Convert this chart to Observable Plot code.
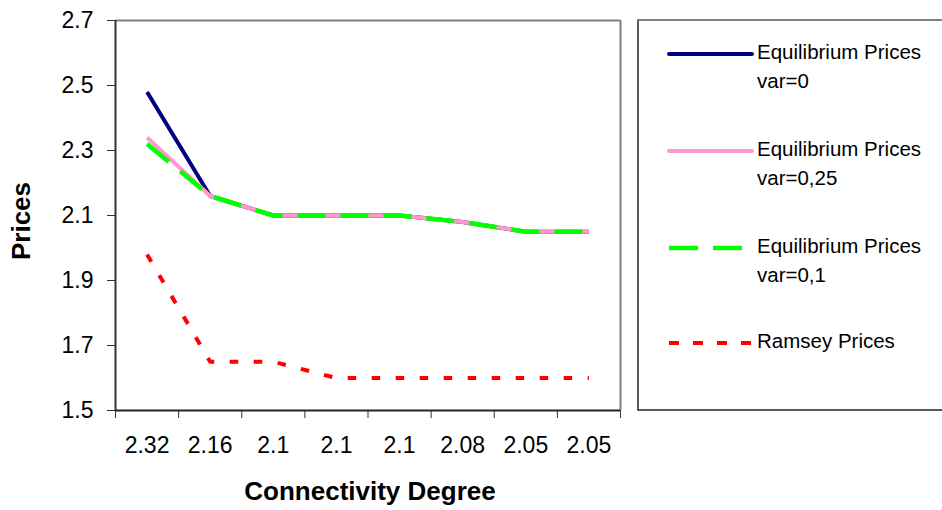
<!DOCTYPE html>
<html>
<head>
<meta charset="utf-8">
<script src="https://cdn.jsdelivr.net/npm/d3@7"></script>
<script src="https://cdn.jsdelivr.net/npm/@observablehq/plot@0.6"></script>
<style>
  html, body { margin: 0; padding: 0; background: #fff; }
  #chart svg { display: block; }
</style>
</head>
<body>
<div id="chart"></div>
<script>
// Connectivity degree categories (labels repeat, so points are placed by index)
const degreeLabels = ["2.32", "2.16", "2.1", "2.1", "2.1", "2.08", "2.05", "2.05"];

// Price series
const eqPricesVar0   = [2.48, 2.16, 2.10, 2.10, 2.10, 2.08, 2.05, 2.05];
const eqPricesVar025 = [2.34, 2.16, 2.10, 2.10, 2.10, 2.08, 2.05, 2.05];
const eqPricesVar01  = [2.32, 2.16, 2.10, 2.10, 2.10, 2.08, 2.05, 2.05];
const ramseyPrices   = [1.98, 1.65, 1.65, 1.60, 1.60, 1.60, 1.60, 1.60];

const yTicks = [1.5, 1.7, 1.9, 2.1, 2.3, 2.5, 2.7];

const seriesDefs = [
  {lines: ["Equilibrium Prices", "var=0"],    values: eqPricesVar0,   color: "#000080", width: 4,   dash: null,        legendDash: null,    legendEnd: 752},
  {lines: ["Equilibrium Prices", "var=0,25"], values: eqPricesVar025, color: "#ff99cc", width: 4,   dash: null,        legendDash: null,    legendEnd: 752},
  {lines: ["Equilibrium Prices", "var=0,1"],  values: eqPricesVar01,  color: "#00ff00", width: 4.5, dash: "28,15",     legendDash: "29,15", legendEnd: 743},
  {lines: ["Ramsey Prices"],                  values: ramseyPrices,   color: "#ff0000", width: 4,   dash: "8.5,15.5",  legendDash: "10,14", legendEnd: 753}
];

const toRows = s => s.values.map((v, i) => ({x: i + 0.5, y: v}));

const font = "'Liberation Sans', Arial, sans-serif";
const n = degreeLabels.length;
const boundaries = d3.range(0, n + 1);
const centers = d3.range(n).map(i => i + 0.5);

const lineMarks = seriesDefs.map(s => Plot.line(toRows(s), {
  x: "x", y: "y",
  stroke: s.color,
  strokeWidth: s.width,
  strokeDasharray: s.dash,
  strokeLinecap: "butt",
  strokeLinejoin: "round"
}));

const chart = Plot.plot({
  width: 942,
  height: 510,
  marginLeft: 115,
  marginRight: 322,
  marginTop: 20,
  marginBottom: 100,
  style: {fontFamily: font, fontSize: "20px", color: "#000", background: "#fff", overflow: "visible"},
  x: {domain: [0, n]},
  y: {domain: [1.5, 2.7]},
  marks: [
    // plot frame
    Plot.ruleY([2.7], {stroke: "#808080", strokeWidth: 2}),
    Plot.ruleX([n], {stroke: "#808080", strokeWidth: 2}),
    // y axis
    Plot.axisY({
      ticks: yTicks,
      tickFormat: d => d.toFixed(1),
      tickSize: 8,
      tickPadding: 14,
      stroke: "#333",
      fontSize: 23,
      label: null
    }),
    // x axis: boundary ticks and centred category labels
    Plot.axisX({ticks: boundaries, tickFormat: () => "", tickSize: 8, stroke: "#333", label: null}),
    Plot.axisX({ticks: centers, tickFormat: d => degreeLabels[Math.round(d - 0.5)], tickSize: 0, tickPadding: 26, fontSize: 23, label: null}),
    Plot.ruleX([0], {stroke: "#333", strokeWidth: 2}),
    Plot.ruleY([1.5], {stroke: "#222", strokeWidth: 2}),
    ...lineMarks
  ]
});

const svg = d3.select(chart);

// axis titles
svg.append("text")
  .attr("x", 370).attr("y", 493)
  .attr("text-anchor", "middle").attr("dominant-baseline", "middle")
  .attr("font-family", font).attr("font-size", 26).attr("font-weight", "bold")
  .text("Connectivity Degree");

svg.append("text")
  .attr("transform", "translate(23,221) rotate(-90)")
  .attr("text-anchor", "middle").attr("dominant-baseline", "middle")
  .attr("font-family", font).attr("font-size", 26).attr("font-weight", "bold")
  .text("Prices");

// legend box
const lg = svg.append("g");
lg.append("rect")
  .attr("x", 638).attr("y", 20).attr("width", 330).attr("height", 390)
  .attr("fill", "#fff").attr("stroke", "#222").attr("stroke-width", 1.5);
lg.append("line")
  .attr("x1", 638).attr("x2", 942).attr("y1", 20).attr("y2", 20)
  .attr("stroke", "#808080").attr("stroke-width", 2);

const legendY = [54, 151, 248, 343];
seriesDefs.forEach((s, i) => {
  const y = legendY[i];
  lg.append("line")
    .attr("x1", 669).attr("x2", s.legendEnd)
    .attr("y1", y).attr("y2", y)
    .attr("stroke", s.color).attr("stroke-width", s.width)
    .attr("stroke-dasharray", s.legendDash)
    .attr("stroke-linecap", s.legendDash ? "butt" : "round");
  s.lines.forEach((t, j) => {
    lg.append("text")
      .attr("x", 757).attr("y", y + j * 29)
      .attr("text-anchor", "start")
      .attr("dominant-baseline", "middle")
      .attr("font-family", font).attr("font-size", 20.5)
      .text(t);
  });
});

document.getElementById("chart").appendChild(chart);
</script>
</body>
</html>
